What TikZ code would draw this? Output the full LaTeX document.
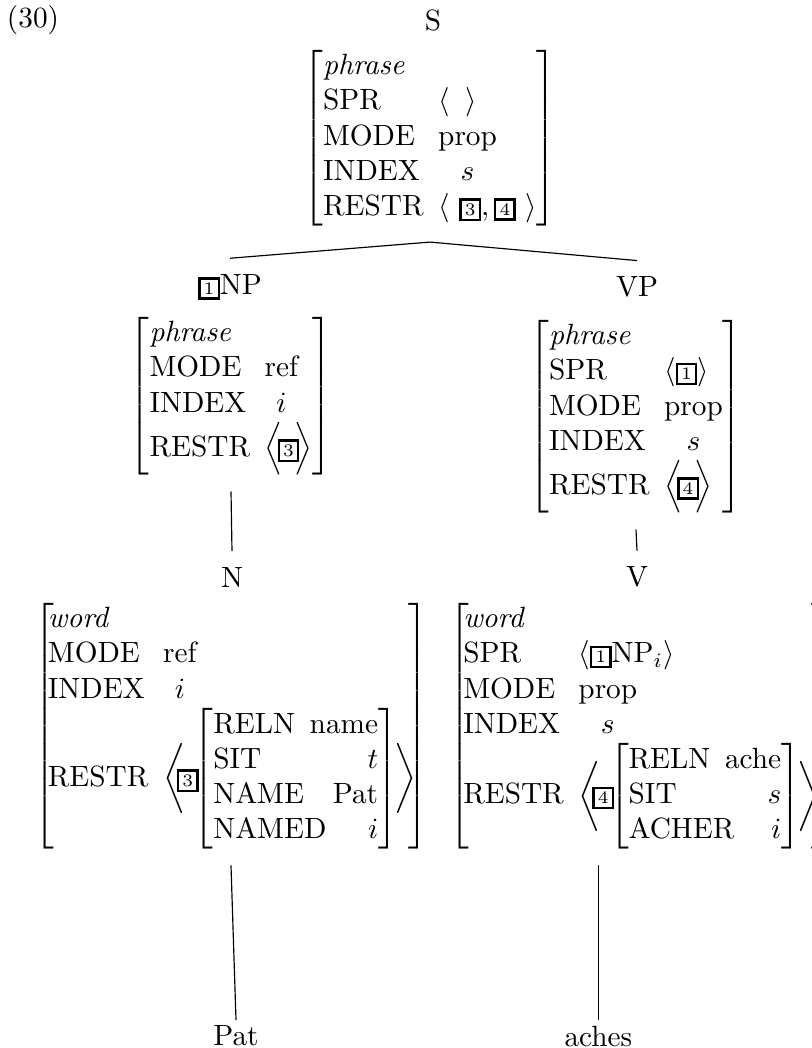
\documentclass[tikz,border=0pt]{standalone}
\usepackage{amsmath}
\usepackage{amssymb}
\usepackage{calc}
\usepackage{tikz}
\usetikzlibrary{positioning}
\tikzset{
    %Define style for category labels
    cat/.style={
           inner sep=0pt,
           outer ysep=5.5pt},
    %Define style for the words at the bottom
    leaf/.style={
           inner sep=0pt,
           outer ysep=2pt},
    %Define style for feature structures
    avm/.style={
           anchor=north,
           inner sep=0pt,
           outer ysep=5.5pt},
    % Define branch style
    branch/.style={
           -,
           line width=0.4pt}
}
\newcommand{\tagbox}[1]{{\setlength{\fboxsep}{1pt}\setlength{\fboxrule}{0.8pt}\fbox{\makebox[3.8pt]{\fontsize{6}{6}\selectfont #1}}}}
\newcommand{\valunder}[2]{\makebox[\widthof{#1}]{#2}}
\newcommand{\frow}[2]{\text{#1}\hspace{5pt}\hfill#2}

\begin{document}
\begin{tikzpicture}[x=0.012cm,y=-0.012cm]
\useasboundingbox (0,0) rectangle (811,1048);
 %nodes
\node (num) at (33,20) {(30)};
\node[cat] (S) at (433,20) {S};
\node[avm] (Savm) at (430,34) {$\left[\begin{array}{@{}l@{\hspace{5pt}}l@{}}
    \textit{phrase} & \\
    \text{SPR} & \langle\;\;\rangle \\
    \text{MODE} & \text{prop} \\
    \text{INDEX} & \valunder{prop}{$s$} \\
    \text{RESTR} & \langle\ \tagbox{3}, \tagbox{4}\ \rangle
  \end{array}\right]$};
\node[cat] (NP) at (230,287) {\tagbox{1}NP};
\node[cat] (VP) at (637,287) {VP};
\node[avm] (NPavm) at (231,301) {$\left[\begin{array}{@{}l@{\hspace{5pt}}l@{}}
    \textit{phrase} & \\
    \text{MODE} & \text{ref} \\
    \text{INDEX} & \valunder{ref}{$i$} \\
    \text{RESTR} & \Bigl\langle\mkern-3mu\tagbox{3}\mkern-3mu\Bigr\rangle
  \end{array}\right]$};
\node[avm] (VPavm) at (636,304) {$\left[\begin{array}{@{}l@{\hspace{5pt}}l@{}}
    \textit{phrase} & \\
    \text{SPR} & \langle\tagbox{1}\rangle \\
    \text{MODE} & \text{prop} \\
    \text{INDEX} & \valunder{prop}{$s$} \\
    \text{RESTR} & \Bigl\langle\mkern-3mu\tagbox{4}\mkern-3mu\Bigr\rangle
  \end{array}\right]$};
\node[cat] (N) at (232,577) {N};
\node[cat] (V) at (637,577) {V};
\node[avm] (Nword) at (231,587) {$\left[\begin{array}{@{\hspace{-2pt}}l@{\hspace{5pt}}l@{}}
    \textit{word} & \\
    \text{MODE} & \text{ref} \\
    \text{INDEX} & \valunder{ref}{$i$} \\
    \text{RESTR} & \biggl\langle\mkern-5mu\tagbox{3}\mkern-6mu\left[\begin{array}{@{}l@{}}
        \frow{RELN}{\text{name}} \\
        \frow{SIT}{t} \\
        \frow{NAME}{\text{Pat}} \\
        \frow{NAMED}{i}
      \end{array}\right]\mkern-2mu\biggr\rangle\mkern-5mu
  \end{array}\right]$};
\node[avm, anchor=north west] (Vword) at (449,587) {$\left[\begin{array}{@{\hspace{-2pt}}l@{\hspace{5pt}}l@{}}
    \textit{word} & \\
    \text{SPR} & \langle\tagbox{1}\text{NP}_i\rangle \\
    \text{MODE} & \text{prop} \\
    \text{INDEX} & \valunder{prop}{$s$} \\
    \text{RESTR} & \biggl\langle\mkern-5mu\tagbox{4}\mkern-6mu\left[\begin{array}{@{}l@{}}
        \frow{RELN}{\text{ache}} \\
        \frow{SIT}{s} \\
        \frow{ACHER}{i}
      \end{array}\right]\mkern-2mu\biggr\rangle\mkern-5mu
  \end{array}\right]$};
\node[leaf] (Pat) at (236,1036) {Pat};
\node[leaf] (aches) at (598.4,1036) {aches};
 %branches
\path[branch]
    (Savm.south) edge (NP.north)
                 edge (VP.north)
    (NPavm.south) edge (N.north)
    (VPavm.south) edge (V.north)
    (Nword.south) edge (Pat.north)
    (aches.north |- Vword.south) edge (aches.north);
\end{tikzpicture}
\end{document}
